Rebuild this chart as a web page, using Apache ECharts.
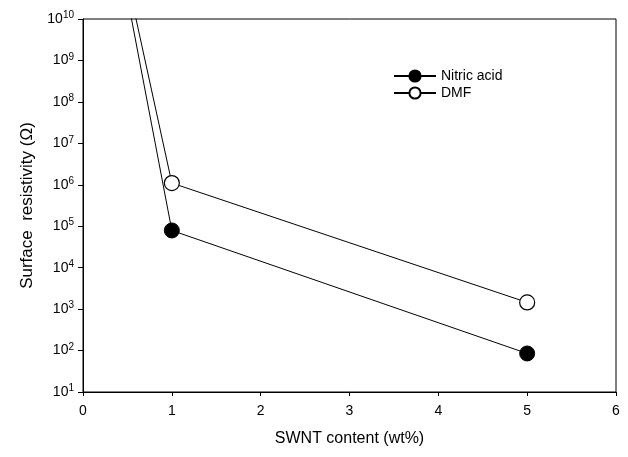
<!DOCTYPE html>
<html>
<head>
<meta charset="utf-8">
<script src="https://cdn.jsdelivr.net/npm/echarts@6/dist/echarts.min.js"></script>
<style>
  html, body { margin: 0; padding: 0; background: #fff; }
  #main { width: 628px; height: 457px; }
</style>
</head>
<body>
<div id="main"></div>
<script>
// SWNT content (wt%) and surface resistivity (ohm)
const contentNitric = [0.5, 1, 5];
const nitricAcid = [3.3e10, 7.9e4, 85];
const contentDmf = [0.5, 1, 5];
const dmf = [9e10, 1.1e6, 1.45e3];

const xTicks = [0, 1, 2, 3, 4, 5, 6];

// initialize the echarts instance
const chart = echarts.init(document.getElementById("main"));

const font = "Liberation Sans, Arial, sans-serif";

chart.setOption({
  animation: false,
  grid: {
    left: 83,
    right: 12,
    top: 19,
    bottom: 65,
    show: true,
    borderColor: "#000",
    borderWidth: 1,
  },
  legend: {
    orient: "vertical",
    left: 388,
    top: 64,
    itemWidth: 42,
    itemHeight: 14,
    itemGap: 3,
    textStyle: { fontFamily: font, fontSize: 14, color: "#000" },
    data: ["Nitric acid", "DMF"],
  },
  xAxis: {
    type: "value",
    min: 0,
    max: 6,
    interval: 1,
    name: "SWNT content (wt%)",
    nameLocation: "middle",
    nameGap: 39,
    nameTextStyle: { fontFamily: font, fontSize: 16, color: "#000" },
    axisLine: { lineStyle: { color: "#000" } },
    axisTick: { length: 4, lineStyle: { color: "#000" } },
    axisLabel: {
      fontFamily: font,
      fontSize: 14,
      color: "#000",
      margin: 12,
      formatter: (v) => (xTicks.includes(v) ? String(v) : ""),
    },
    splitLine: { show: false },
  },
  yAxis: {
    type: "log",
    logBase: 10,
    min: 10,
    max: 1e10,
    name: "Surface  resistivity (Ω)",
    nameLocation: "middle",
    nameGap: 47,
    nameTextStyle: { fontFamily: font, fontSize: 17, color: "#000" },
    axisLine: { show: true, lineStyle: { color: "#000" } },
    axisTick: { length: 5, lineStyle: { color: "#000" } },
    axisLabel: {
      margin: 9,
      formatter: (v) => {
        const e = Math.round(Math.log10(v));
        return "{b|10}{s|" + e + "}";
      },
      rich: {
        b: { fontFamily: font, fontSize: 14, color: "#000" },
        s: { fontFamily: font, fontSize: 10, color: "#000", verticalAlign: "top", padding: [0, 0, 7, 0] },
      },
    },
    splitLine: { show: false },
  },
  series: [
    {
      name: "Nitric acid",
      type: "line",
      clip: true,
      symbol: "circle",
      symbolSize: 15,
      lineStyle: { color: "#000", width: 1 },
      itemStyle: { color: "#000", borderColor: "#000", borderWidth: 1 },
      data: contentNitric.map((x, i) => [x, nitricAcid[i]]),
    },
    {
      name: "DMF",
      type: "line",
      clip: true,
      symbol: "circle",
      symbolSize: 15,
      lineStyle: { color: "#000", width: 1 },
      itemStyle: { color: "#fff", borderColor: "#000", borderWidth: 1.2 },
      data: contentDmf.map((x, i) => [x, dmf[i]]),
    },
  ],
});
</script>
</body>
</html>
